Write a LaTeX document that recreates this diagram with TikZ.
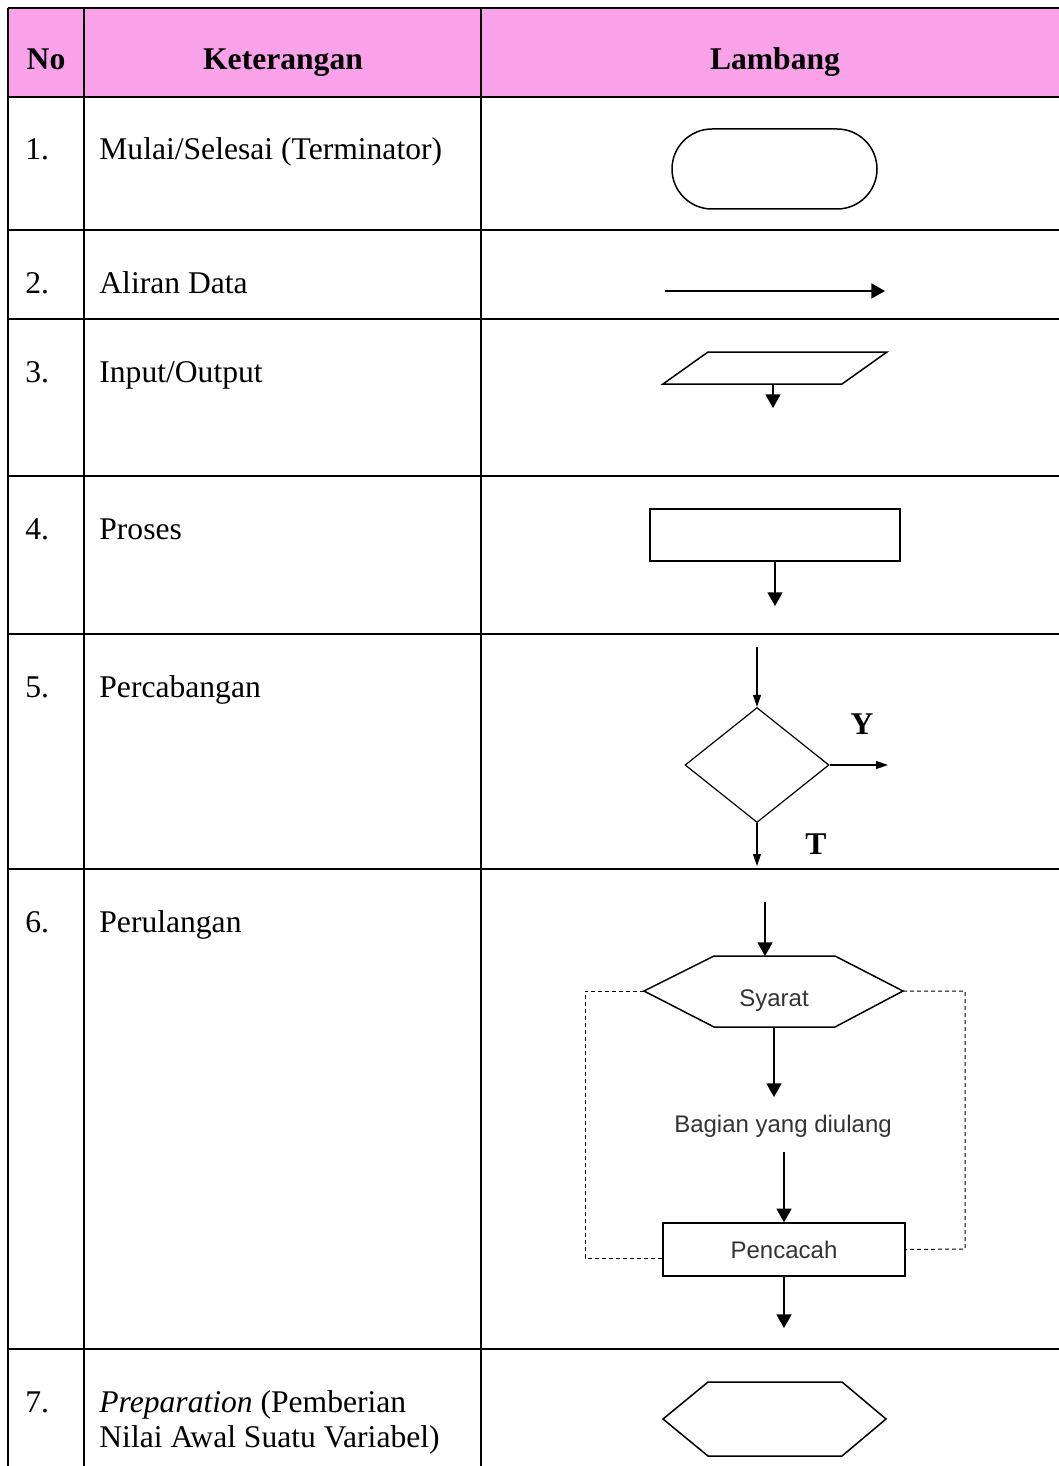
\documentclass[tikz,border=0pt]{standalone}
\usepackage{fontspec}
\setmainfont{Liberation Serif}
\newfontfamily\flowsans{Liberation Sans}
\usetikzlibrary{positioning, arrows.meta, shapes, calc}
\definecolor{headcolor}{HTML}{F9A1E9}
\definecolor{labelgray}{HTML}{333333}

\begin{document}
\begin{tikzpicture}[
    x=0.5pt, y=-0.5pt,
    % Text styles
    headtext/.style={
        font=\fontsize{15.8}{17.5}\selectfont\bfseries,
        anchor=base, inner sep=0pt
    },
    bodytext/.style={
        font=\fontsize{15.8}{17.5}\selectfont,
        anchor=base west, inner sep=0pt
    },
    branchtext/.style={
        font=\fontsize{15.8}{17.5}\selectfont\bfseries,
        anchor=base, inner sep=0pt
    },
    sanstext/.style={
        font=\flowsans\fontsize{12}{14}\selectfont,
        text=labelgray, inner sep=0pt
    },
    % Line styles
    gridline/.style={line width=1pt, black},
    symline/.style={line width=0.75pt, black},
    symnode/.style={
        draw, line width=0.75pt, inner sep=0pt
    },
    flowarrow/.style={
        -{Triangle[length=6.8pt, width=7.5pt]}, line width=0.75pt
    },
    thinarrow/.style={
        -{Triangle[length=6pt, width=4pt]}, line width=0.6pt
    },
    loopline/.style={
        line width=0.5pt, dash pattern=on 2pt off 1.5pt
    }
]
\useasboundingbox (0,0) rectangle (1059,1466);

% ============ TABLE ============
\fill[headcolor] (8,8) rectangle (1065,97);
\draw[gridline] (8,8) -- (1065,8);
\draw[gridline] (8,97) -- (1065,97);
\draw[gridline] (8,230) -- (1065,230);
\draw[gridline] (8,319) -- (1065,319);
\draw[gridline] (8,476) -- (1065,476);
\draw[gridline] (8,634) -- (1065,634);
\draw[gridline] (8,869) -- (1065,869);
\draw[gridline] (8,1349) -- (1065,1349);
\draw[gridline] (8,8) -- (8,1470);
\draw[gridline] (84,8) -- (84,1470);
\draw[gridline] (481,8) -- (481,1470);

% ============ HEADER LABELS ============
\node[headtext] (hno) at (46,70) {No};
\node[headtext] (hket) at (283,70) {Keterangan};
\node[headtext] (hlam) at (775,70) {Lambang};

% ============ NUMBERS AND DESCRIPTIONS ============
\node[bodytext] (no1) at (25,160) {1.};
\node[bodytext] (desc1) at (99,160) {Mulai/Selesai (Terminator)};
\node[bodytext] (no2) at (25,293) {2.};
\node[bodytext] (desc2) at (99,293) {Aliran Data};
\node[bodytext] (no3) at (25,382) {3.};
\node[bodytext] (desc3) at (99,382) {Input/Output};
\node[bodytext] (no4) at (25,539) {4.};
\node[bodytext] (desc4) at (99,539) {Proses};
\node[bodytext] (no5) at (25,697) {5.};
\node[bodytext] (desc5) at (99,697) {Percabangan};
\node[bodytext] (no6) at (25,932) {6.};
\node[bodytext] (desc6) at (99,932) {Perulangan};
\node[bodytext] (no7) at (25,1412) {7.};
\node[bodytext] (desc7) at (99,1412) {\textit{Preparation} (Pemberian};
\node[bodytext] (desc7b) at (99,1447) {Nilai Awal Suatu Variabel)};

% ============ SYMBOLS ============
% Terminator
\node[symnode, rounded rectangle, minimum width=102.5pt, minimum height=40pt]
    (term) at (774.5,169) {};

% Flow line
\coordinate (flowstart) at (665,291);
\coordinate (flowend) at (885,291);
\draw[flowarrow] (flowstart) -- (flowend);

% Input/Output
\draw[symline] (708,352) -- (887,352) -- (842,384) -- (663,384) -- cycle;
\coordinate (ioout) at (773,384);
\coordinate (ioend) at (773,408);
\draw[flowarrow] (ioout) -- (ioend);

% Process
\node[symnode, minimum width=125pt, minimum height=26pt] (proc) at (775,535) {};
\coordinate (procend) at (775,606);
\draw[flowarrow] (proc.south) -- (procend);

% Decision
\node[symnode, diamond, line width=0.6pt, minimum width=72pt, minimum height=57.5pt]
    (branch) at (757,765) {};
\coordinate (branchin) at (757,647);
\coordinate (branchyes) at (888,765);
\coordinate (branchno) at (757,866);
\draw[thinarrow] (branchin) -- (branch.north);
\draw[thinarrow] (branch.east) -- (branchyes);
\draw[thinarrow] (branch.south) -- (branchno);
\node[branchtext] (ylabel) at (862,734) {Y};
\node[branchtext] (tlabel) at (816,854) {T};

% Loop
\coordinate (condL) at (644,991);
\coordinate (condR) at (903,991);
\draw[symline] (condL) -- (714,956) -- (835,956) -- (condR) -- (835,1027) -- (714,1027) -- cycle;
\node[sanstext, anchor=base] (cond) at (774,1006) {Syarat};
\coordinate (loopin) at (765,902);
\coordinate (condtop) at (765,956);
\draw[flowarrow] (loopin) -- (condtop);
\coordinate (condbot) at (774,1027);
\coordinate (bodyin) at (774,1097);
\draw[flowarrow] (condbot) -- (bodyin);
\node[sanstext, anchor=base] (body) at (783,1132) {Bagian yang diulang};
\node[symnode, sanstext, minimum width=121pt, minimum height=26.5pt]
    (counter) at (784,1249.5) {Pencacah};
\coordinate (bodyout) at (784,1152);
\draw[flowarrow] (bodyout) -- (counter.north);
\coordinate (loopout) at (784,1328);
\draw[flowarrow] (counter.south) -- (loopout);
\coordinate (dashL) at (585,1258);
\coordinate (dashR) at (965,1249);
\draw[loopline] (condL) -| (dashL) -- (dashL -| counter.west);
\draw[loopline] (condR) -| (dashR) -- (counter.east);

% Preparation
\draw[symline] (663,1419) -- (708,1382) -- (842,1382) -- (886,1419) -- (842,1456) -- (708,1456) -- cycle;

\end{tikzpicture}
\end{document}
